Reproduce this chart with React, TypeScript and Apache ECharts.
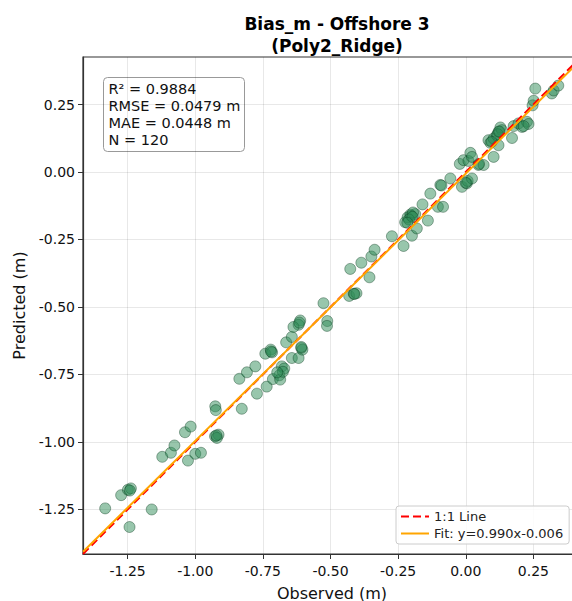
import React, { useEffect, useRef } from "react";
import * as echarts from "echarts";

const observed: number[] = [
  -1.333, -1.274, -1.249, -1.238, -1.243, -1.161, -1.122, -1.09, -1.077, -1.038,
  -1.017, -1.027, -1.0, -0.979, -0.927, -0.914, -0.92, -0.926, -0.924, -0.828,
  -0.837, -0.809, -0.778, -0.772, -0.736, -0.741, -0.721, -0.716, -0.713, -0.68,
  -0.671, -0.689, -0.686, -0.676, -0.643, -0.618, -0.664, -0.643, -0.608, -0.604,
  -0.612, -0.618, -0.637, -0.526, -0.512, -0.513, -0.431, -0.414, -0.404, -0.427,
  -0.386, -0.356, -0.349, -0.337, -0.273, -0.23, -0.199, -0.181, -0.224, -0.215,
  -0.205, -0.187, -0.202, -0.195, -0.16, -0.14, -0.103, -0.084, -0.131, -0.094,
  -0.057, -0.022, -0.014, 0.004, 0.007, 0.023, -0.008, 0.01, 0.017, 0.023,
  0.047, 0.066, 0.084, 0.091, 0.103, 0.103, 0.121, 0.115, 0.121, 0.128,
  0.134, 0.171, 0.177, 0.195, 0.208, 0.226, 0.232, 0.247, 0.251, 0.257,
  0.318, 0.325, 0.342, -0.922, -0.697, -0.72, -0.608, -0.21, -0.197, 0.118,
  0.124, 0.096, 0.0, -0.412, -0.216, 0.214, -1.242, -0.615, 0.049, -0.09,
];
const predicted: number[] = [
  -1.246, -1.197, -1.177, -1.172, -1.315, -1.25, -1.055, -1.04, -1.013, -0.964,
  -0.943, -1.069, -1.044, -1.04, -0.979, -0.973, -0.985, -0.868, -0.882, -0.877,
  -0.766, -0.742, -0.72, -0.821, -0.795, -0.673, -0.658, -0.668, -0.767, -0.72,
  -0.728, -0.753, -0.769, -0.74, -0.689, -0.689, -0.631, -0.611, -0.652, -0.658,
  -0.55, -0.566, -0.574, -0.486, -0.552, -0.57, -0.459, -0.451, -0.449, -0.359,
  -0.336, -0.39, -0.313, -0.288, -0.238, -0.274, -0.236, -0.209, -0.186, -0.168,
  -0.158, -0.156, -0.162, -0.15, -0.12, -0.18, -0.129, -0.129, -0.08, -0.048,
  -0.024, 0.03, -0.055, -0.042, -0.033, -0.024, 0.044, 0.041, 0.071, 0.056,
  0.026, 0.026, 0.118, 0.108, 0.124, 0.056, 0.099, 0.136, 0.149, 0.165,
  0.155, 0.126, 0.17, 0.18, 0.167, 0.186, 0.178, 0.247, 0.264, 0.309,
  0.291, 0.302, 0.32, -0.976, -0.742, -0.665, -0.648, -0.176, -0.166, 0.14,
  0.15, 0.112, -0.04, -0.452, -0.188, 0.17, -1.18, -0.558, 0.03, -0.05,
];

const axisMin = -1.415;
const axisMax = 0.426;
const tickValues: number[] = [-1.25, -1.0, -0.75, -0.5, -0.25, 0.0, 0.25];
const fitSlope = 0.99;
const fitIntercept = -0.006;
const statsLines: string[] = ["R² = 0.9884", "RMSE = 0.0479 m", "MAE = 0.0448 m", "N = 120"];
const titleLines: string[] = ["Bias_m - Offshore 3", "(Poly2_Ridge)"];
const oneToOneName = "1:1 Line";
const fitName = "Fit: y=0.990x-0.006";

const FONT = "DejaVu Sans";

export default function App() {
  const ref = useRef<HTMLDivElement>(null);
  useEffect(() => {
    if (!ref.current) return;
    const chart = echarts.init(ref.current, null, { renderer: "svg" });
    const points = observed.map((x, i) => [x, predicted[i]]);
    const lineXs = [axisMin, axisMax];
    const axisCommon = (labelMargin: number) => ({
      type: "value",
      min: axisMin,
      max: axisMax,
      nameLocation: "middle",
      nameTextStyle: { fontFamily: FONT, fontSize: 16, color: "#111" },
      axisLine: { show: true, onZero: false, lineStyle: { color: "#333", width: 1.2 } },
      axisTick: {
        show: true,
        customValues: tickValues,
        length: 5,
        lineStyle: { color: "#333", width: 1 },
      },
      axisLabel: {
        customValues: tickValues,
        formatter: (v: number) => v.toFixed(2),
        fontFamily: FONT,
        fontSize: 14,
        color: "#111",
        margin: labelMargin,
      },
      splitLine: {
        show: true,
        lineStyle: { color: "rgba(0,0,0,0.09)", width: 1 },
      },
    });
    chart.setOption({
      animation: false,
      backgroundColor: "#fff",
      title: {
        text: titleLines.join("\n"),
        left: 332,
        top: 8,
        textAlign: "center",
        textStyle: {
          fontFamily: FONT,
          fontSize: 17,
          fontWeight: "bold",
          color: "#000",
          lineHeight: 22,
        },
      },
      grid: {
        left: 83,
        top: 57,
        right: 0,
        bottom: 47,
        outerBoundsMode: "none",
        containLabel: false,
        show: true,
        borderColor: "#333",
        borderWidth: 1.2,
        backgroundColor: "transparent",
      },
      xAxis: { ...axisCommon(10), name: "Observed (m)", nameGap: 31 },
      yAxis: { ...axisCommon(8), name: "Predicted (m)", nameGap: 55 },
      legend: {
        data: [oneToOneName, fitName],
        orient: "vertical",
        left: 396,
        top: 506,
        backgroundColor: "rgba(255,255,255,0.85)",
        borderColor: "#ccc",
        borderWidth: 1,
        borderRadius: 3,
        padding: [4, 6, 4, 4],
        itemWidth: 28,
        itemHeight: 14,
        itemGap: 4,
        textStyle: { fontFamily: FONT, fontSize: 13, color: "#222" },
      },
      series: [
        {
          type: "scatter",
          data: points,
          symbolSize: 11,
          itemStyle: {
            color: "rgba(46,139,87,0.62)",
            borderColor: "rgba(0,50,20,0.6)",
            borderWidth: 0.8,
          },
          z: 2,
        },
        {
          type: "line",
          name: oneToOneName,
          data: lineXs.map((x) => [x, x]),
          symbol: "none",
          itemStyle: { color: "#ff0000", opacity: 0 },
          lineStyle: { color: "#ff0000", width: 2, type: [8, 4], opacity: 1 },
          z: 3,
        },
        {
          type: "line",
          name: fitName,
          data: lineXs.map((x) => [x, fitSlope * x + fitIntercept]),
          symbol: "none",
          itemStyle: { color: "#ffa500", opacity: 0 },
          lineStyle: { color: "#ffa500", width: 2, opacity: 1 },
          z: 4,
        },
      ],
      graphic: [
        {
          type: "group",
          left: 103,
          top: 77,
          children: [
            {
              type: "rect",
              shape: { x: 0, y: 0, width: 141, height: 74, r: 4 },
              style: { fill: "rgba(255,255,255,0.85)", stroke: "#999", lineWidth: 1 },
            },
            {
              type: "text",
              x: 5,
              y: 3,
              style: {
                text: statsLines.join("\n"),
                fontFamily: FONT,
                fontSize: 14.5,
                lineHeight: 17,
                fill: "#111",
              },
            },
          ],
        },
      ],
    });
    return () => chart.dispose();
  }, []);
  return (
    <div
      style={{
        position: "fixed",
        left: 0,
        top: 0,
        width: 572,
        height: 601,
        overflow: "hidden",
        background: "#fff",
      }}
    >
      <div ref={ref} style={{ width: 581, height: 601 }} />
    </div>
  );
}
